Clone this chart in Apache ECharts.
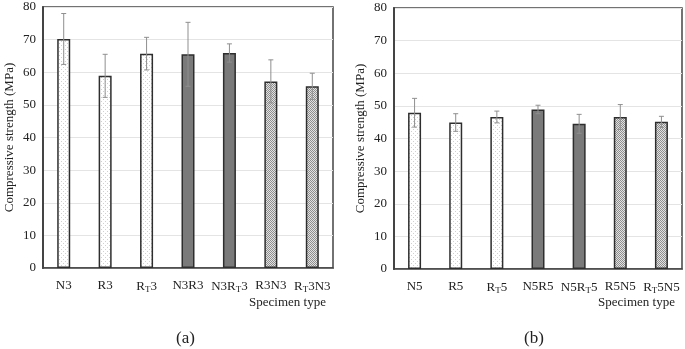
<!DOCTYPE html>
<html>
<head>
<meta charset="utf-8">
<script src="https://cdn.jsdelivr.net/npm/echarts@6/dist/echarts.min.js"></script>
<style>
  html, body { margin: 0; padding: 0; background: #fff; }
  #chart { width: 685px; height: 349px; }
</style>
</head>
<body>
<div id="chart"></div>
<script>
// categories: "_T" marks a subscript T
const categoriesA = ['N3', 'R3', 'R_T3', 'N3R3', 'N3R_T3', 'R3N3', 'R_T3N3']
const categoriesB = ['N5', 'R5', 'R_T5', 'N5R5', 'N5R_T5', 'R5N5', 'R_T5N5']

// mean compressive strength (MPa)
const strengthA = [70.2, 58.9, 65.7, 65.5, 65.9, 57.2, 55.7]
const strengthB = [47.9, 44.9, 46.6, 48.9, 44.5, 46.6, 45.1]

// standard deviation for error bars
const errorA = [7.8, 6.6, 5.0, 9.8, 2.8, 6.6, 4.0]
const errorB = [4.4, 2.7, 1.8, 1.3, 2.9, 3.8, 1.7]

// pattern group per bar: 0 = dotted, 1 = solid grey, 2 = hatched
const groups = [0, 0, 0, 1, 1, 2, 2]

const yTicks = { min: 0, max: 80, interval: 10 }

function makeDots() {
  const c = document.createElement('canvas')
  c.width = 4; c.height = 4
  const ctx = c.getContext('2d')
  ctx.fillStyle = '#ffffff'
  ctx.fillRect(0, 0, 4, 4)
  ctx.fillStyle = '#d0d0d0'
  ctx.fillRect(1, 1, 1, 1)
  ctx.fillRect(3, 3, 1, 1)
  return c
}

function makeHatch() {
  const c = document.createElement('canvas')
  c.width = 2; c.height = 2
  const ctx = c.getContext('2d')
  ctx.fillStyle = '#e2e2e2'
  ctx.fillRect(0, 0, 2, 2)
  ctx.fillStyle = '#8e8e8e'
  ctx.fillRect(0, 0, 1, 1)
  ctx.fillRect(1, 1, 1, 1)
  return c
}

const fills = [
  { image: makeDots(), repeat: 'repeat' },
  '#7a7a7a',
  { image: makeHatch(), repeat: 'repeat' }
]

const font = 'Liberation Serif'

function labelFmt(v) {
  return v.replace(/_T/g, '{s|T}')
}

function barData(vals) {
  return vals.map((v, i) => ({
    value: v,
    itemStyle: { color: fills[groups[i]] }
  }))
}

function errData(vals, errs) {
  return vals.map((v, i) => [i, v - errs[i], v + errs[i]])
}

function renderErr(params, api) {
  const lo = api.coord([api.value(0), api.value(1)])
  const hi = api.coord([api.value(0), api.value(2)])
  const cap = 2.5
  const style = { stroke: '#8f8f8f', lineWidth: 1 }
  return {
    type: 'group',
    children: [
      { type: 'line', shape: { x1: hi[0], y1: hi[1], x2: lo[0], y2: lo[1] }, style },
      { type: 'line', shape: { x1: hi[0] - cap, y1: hi[1], x2: hi[0] + cap, y2: hi[1] }, style },
      { type: 'line', shape: { x1: lo[0] - cap, y1: lo[1], x2: lo[0] + cap, y2: lo[1] }, style }
    ]
  }
}

function xAxis(cats, gridIndex) {
  return {
    type: 'category',
    gridIndex,
    data: cats,
    axisTick: { show: false },
    axisLine: { lineStyle: { color: '#444', width: 1.5 } },
    axisLabel: {
      interval: 0,
      margin: 11,
      fontFamily: font,
      fontSize: 13,
      color: '#222',
      formatter: labelFmt,
      rich: {
        s: { fontFamily: font, fontSize: 9, color: '#222', padding: [6, 0, 0, 0] }
      }
    }
  }
}

function yAxis(gridIndex) {
  return {
    type: 'value',
    gridIndex,
    min: yTicks.min,
    max: yTicks.max,
    interval: yTicks.interval,
    name: 'Compressive strength (MPa)',
    nameLocation: 'middle',
    nameGap: 27,
    nameTextStyle: { fontFamily: font, fontSize: 13, color: '#222' },
    axisLine: { show: true, lineStyle: { color: '#444', width: 2 } },
    axisTick: { show: false },
    axisLabel: { fontFamily: font, fontSize: 13, color: '#222', margin: 7 },
    splitLine: { lineStyle: { color: '#e4e4e4' } }
  }
}

const chart = echarts.init(document.getElementById('chart'))

chart.setOption({
  animation: false,
  backgroundColor: '#fff',
  grid: [
    { left: 43, top: 7, width: 290, height: 261, show: true, borderColor: '#444', borderWidth: 1.5 },
    { left: 394, top: 8, width: 288, height: 261, show: true, borderColor: '#444', borderWidth: 1.5 }
  ],
  xAxis: [xAxis(categoriesA, 0), xAxis(categoriesB, 1)],
  yAxis: [yAxis(0), yAxis(1)],
  series: [
    {
      type: 'bar', xAxisIndex: 0, yAxisIndex: 0, barWidth: 13,
      itemStyle: { borderColor: '#2e2e2e', borderWidth: 1.5 },
      data: barData(strengthA)
    },
    {
      type: 'custom', xAxisIndex: 0, yAxisIndex: 0, z: 5,
      renderItem: renderErr, data: errData(strengthA, errorA)
    },
    {
      type: 'bar', xAxisIndex: 1, yAxisIndex: 1, barWidth: 13,
      itemStyle: { borderColor: '#2e2e2e', borderWidth: 1.5 },
      data: barData(strengthB)
    },
    {
      type: 'custom', xAxisIndex: 1, yAxisIndex: 1, z: 5,
      renderItem: renderErr, data: errData(strengthB, errorB)
    }
  ],
  graphic: [
    { type: 'text', right: 685 - 326, top: 296, style: { text: 'Specimen type', font: '13px "Liberation Serif"', fill: '#222' } },
    { type: 'text', right: 685 - 675, top: 296, style: { text: 'Specimen type', font: '13px "Liberation Serif"', fill: '#222' } },
    { type: 'text', left: 176, top: 330, style: { text: '(a)', font: '17px "Liberation Serif"', fill: '#222' } },
    { type: 'text', left: 524, top: 330, style: { text: '(b)', font: '17px "Liberation Serif"', fill: '#222' } }
  ]
})
</script>
</body>
</html>
